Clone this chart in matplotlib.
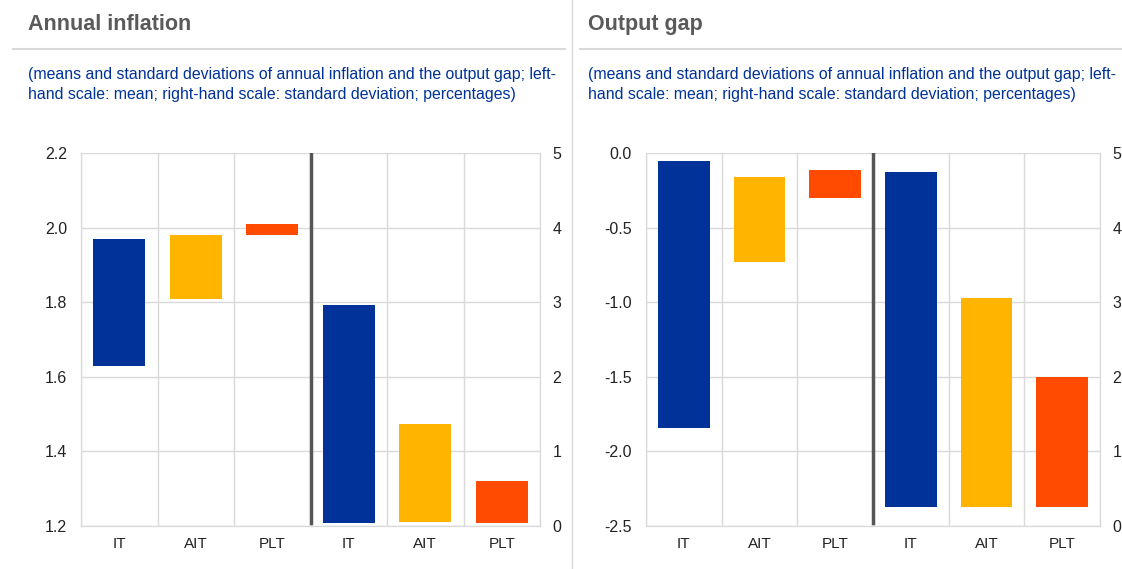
import matplotlib
matplotlib.use('Agg')
import matplotlib.pyplot as plt
from matplotlib.lines import Line2D
import numpy as np

plt.rcParams['font.family'] = ['Liberation Sans', 'DejaVu Sans']

categories = ['IT', 'AIT', 'PLT']
colors = ['#003299', '#FFB400', '#FF4B00']

# annual inflation: mean range (left scale) and std range (right scale)
infl_mean_low = [1.63, 1.81, 1.98]
infl_mean_high = [1.97, 1.98, 2.01]
infl_std_low = [0.04, 0.06, 0.04]
infl_std_high = [2.97, 1.37, 0.60]

# output gap
gap_mean_low = [-1.84, -0.73, -0.30]
gap_mean_high = [-0.05, -0.16, -0.11]
gap_std_low = [0.26, 0.25, 0.25]
gap_std_high = [4.75, 3.06, 2.00]

subtitle_1 = '(means and standard deviations of annual inflation and the output gap; left-'
subtitle_2 = 'hand scale: mean; right-hand scale: standard deviation; percentages)'

W, H = 1122, 569
fig = plt.figure(figsize=(W / 100, H / 100), dpi=100)

grid_col = '#d9d9d9'
text_col = '#222222'


def draw_panel(left_px, right_px, mean_low, mean_high, std_low, std_high,
               ylim, yticks, yfmt):
    ax = fig.add_axes([left_px / W, (H - 526) / H,
                       (right_px - left_px) / W, (526 - 153.3) / H])
    ax2 = ax.twinx()
    x_mean = np.arange(3)
    x_std = np.arange(3) + 3
    ax.bar(x_mean, np.array(mean_high) - np.array(mean_low), bottom=mean_low,
           width=0.68, color=colors, zorder=3)
    ax2.bar(x_std, np.array(std_high) - np.array(std_low), bottom=std_low,
            width=0.68, color=colors, zorder=3)

    ax.set_xlim(-0.5, 5.5)
    ax.set_ylim(*ylim)
    ax.set_yticks(yticks)
    ax.set_yticklabels([yfmt.format(t) for t in yticks])
    ax2.set_ylim(0, 5)
    ax2.set_yticks(range(6))

    ax.set_xticks(range(6))
    ax.set_xticklabels(categories * 2)
    ax.set_xticks(np.arange(-0.5, 6, 1), minor=True)
    ax.grid(True, which='minor', axis='x', color=grid_col, lw=1, zorder=0)
    ax.grid(True, which='major', axis='y', color=grid_col, lw=1, zorder=0)
    ax.tick_params(axis='y', length=0, labelsize=11.5, colors=text_col, pad=10)
    ax.tick_params(axis='x', which='both', length=0, labelsize=11, colors=text_col, pad=8)
    ax2.tick_params(length=0, labelsize=11.5, colors=text_col, pad=9)
    for a in (ax, ax2):
        for s in a.spines.values():
            s.set_color(grid_col)
        a.spines['top'].set_visible(False)
    ax.axvline(2.5, ymin=0.008, ymax=1.0, color='#555555', lw=2.5, zorder=4)
    return ax


draw_panel(81, 540, infl_mean_low, infl_mean_high, infl_std_low, infl_std_high,
           (1.2, 2.2), [1.2, 1.4, 1.6, 1.8, 2.0, 2.2], '{:.1f}')
draw_panel(646, 1100, gap_mean_low, gap_mean_high, gap_std_low, gap_std_high,
           (-2.5, 0.0), [-2.5, -2.0, -1.5, -1.0, -0.5, 0.0], '{:.1f}')

# headers
for x0, title in [(28, 'Annual inflation'), (588, 'Output gap')]:
    fig.text(x0 / W, 1 - 24.5 / H, title, fontsize=15.5, fontweight='bold',
             color='#5a5a5a', va='center', ha='left')
    fig.text(x0 / W, 1 - 75 / H, subtitle_1, fontsize=11.4, color='#003299',
             va='center', ha='left')
    fig.text(x0 / W, 1 - 95 / H, subtitle_2, fontsize=11.4, color='#003299',
             va='center', ha='left')

fig.add_artist(Line2D([13 / W, 565 / W], [1 - 49 / H] * 2, color=grid_col, lw=1.5))
fig.add_artist(Line2D([580 / W, 1.0], [1 - 49 / H] * 2, color=grid_col, lw=1.5))
fig.add_artist(Line2D([572 / W] * 2, [0, 1], color=grid_col, lw=1))

fig.savefig('out.png', dpi=100, facecolor='white')
